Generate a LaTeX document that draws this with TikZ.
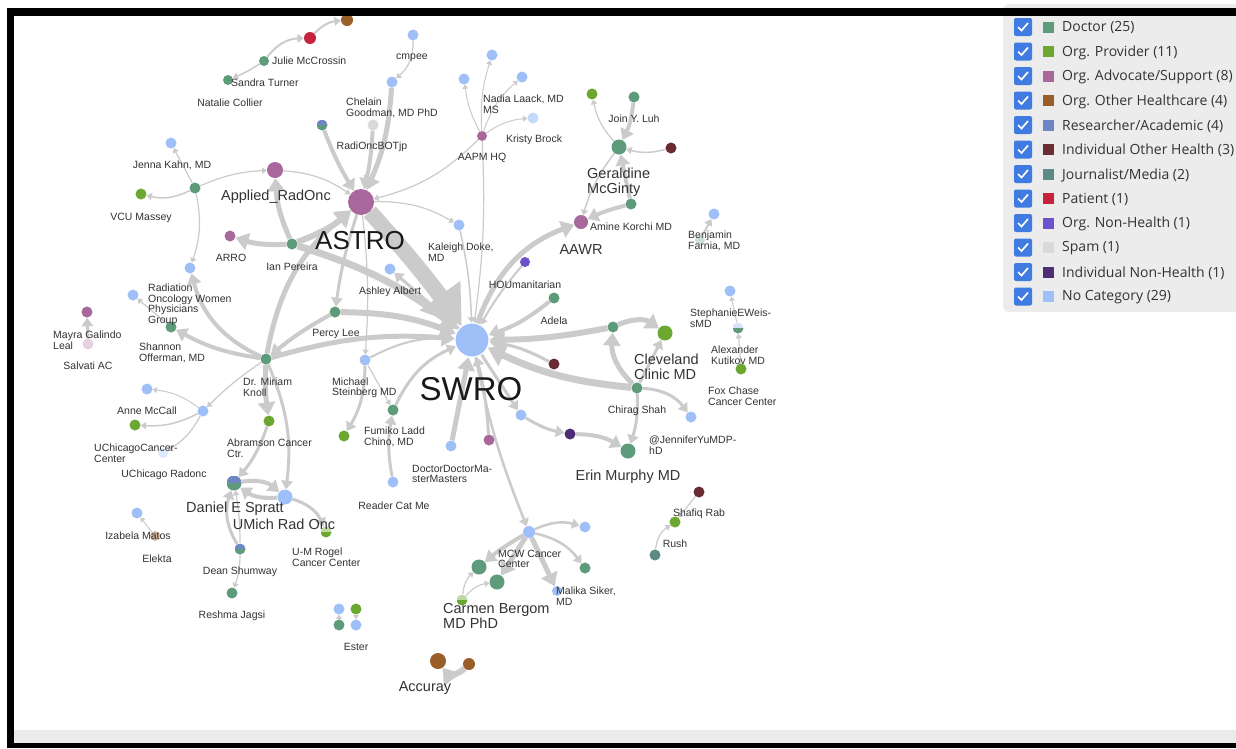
\documentclass[tikz,border=0pt]{standalone}
\usepackage{fontspec}
\setmainfont{Liberation Sans}
\newfontfamily\legfont{Open Sans}
\usetikzlibrary{positioning,arrows.meta,calc,backgrounds}
\definecolor{cDoc}{HTML}{5E9B7B}
\definecolor{cProv}{HTML}{6CA82F}
\definecolor{cAdv}{HTML}{A8689C}
\definecolor{cOther}{HTML}{9A5F28}
\definecolor{cRes}{HTML}{6E86C4}
\definecolor{cIndOth}{HTML}{6A2C33}
\definecolor{cJour}{HTML}{5E8A86}
\definecolor{cPatient}{HTML}{C6233D}
\definecolor{cOrgNon}{HTML}{6C52CC}
\definecolor{cSpam}{HTML}{D9D9D9}
\definecolor{cIndNon}{HTML}{4E2D74}
\definecolor{cNone}{HTML}{9FBFF9}
\definecolor{linkgrey}{HTML}{CBCBCB}
\definecolor{txt}{HTML}{333333}
\definecolor{legbg}{HTML}{ECECEC}
\definecolor{chkblue}{HTML}{3F7BE0}

\begin{document}
\begin{tikzpicture}[x=1pt,y=-1pt,
  dot/.style={circle, inner sep=0pt, minimum size=#1},
  half/.style 2 args={path picture={
    \fill[#1] (path picture bounding box.north west) rectangle (path picture bounding box.east);
    \fill[#2] (path picture bounding box.west) rectangle (path picture bounding box.south east);}},
  link/.style={draw=linkgrey, line width=#1, -{Triangle[length=2pt 2.2, width=3pt 2.8]}},
  lbl/.style={font=\fontsize{10.5}{10.5}\selectfont, text=txt, inner sep=0pt},
  lblw/.style={lbl, align=left, anchor=west},
  midlbl/.style={font=\fontsize{14.5}{15}\selectfont, text=txt, inner sep=0pt},
  midlblw/.style={midlbl, align=left, anchor=west},
  hublbl/.style={font=\fontsize{#1}{#1}\selectfont, text=black!90, inner sep=0pt}]
\useasboundingbox (0,0) rectangle (1236,748);

% nodes, top left
\node[dot=12, fill=cOther] (ohtop) at (347,20) {};
\node[dot=12, fill=cPatient] (patient) at (310,38) {};
\node[dot=10, fill=cDoc] (julie) at (264,61) {};
\node[dot=10, fill=cDoc] (sandra) at (228,80) {};
\node[dot=11, fill=cNone] (cmpee) at (413,35) {};
\node[dot=11, fill=cNone] (cmpeeb) at (392,82) {};
\node[dot=11, fill=cSpam] (chelain) at (373,125) {};
\node[dot=11, half={cRes}{cDoc}] (radbot) at (322,125) {};
\node[dot=26, fill=cAdv] (astro) at (361,202) {};
\node[dot=16, fill=cAdv] (applied) at (275,170) {};
\node[dot=11, fill=cDoc] (jenna) at (195,188) {};
\node[dot=11, fill=cNone] (jennab) at (171,143) {};
\node[dot=11, fill=cProv] (vcu) at (141,194) {};
\node[dot=11, fill=cAdv] (arro) at (230,236) {};
\node[dot=11, fill=cDoc] (ian) at (292,244) {};
\node[dot=11, fill=cNone] (rowpgb) at (190,268) {};

% AAPM and Geraldine
\node[dot=10, fill=cAdv] (aapm) at (482,136) {};
\node[dot=11, fill=cNone] (aapm1) at (464,79) {};
\node[dot=11, fill=cNone] (aapm2) at (492,55) {};
\node[dot=11, fill=cNone] (aapm3) at (522,77) {};
\node[dot=11, fill=cNone!60] (aapm4) at (533,118) {};
\node[dot=11, fill=cNone] (kaleigh) at (459,225) {};
\node[dot=15, fill=cDoc] (geraldine) at (619,147) {};
\node[dot=11, fill=cProv] (gerprov) at (592,94) {};
\node[dot=11, fill=cDoc] (luh) at (634,97) {};
\node[dot=11, fill=cIndOth] (gerred) at (671,148) {};
\node[dot=11, fill=cDoc] (korchi) at (631,204) {};
\node[dot=14, fill=cAdv] (aawr) at (581,222) {};
\node[dot=11, fill=cNone] (farnia) at (714,214) {};
\node[dot=10, fill=cDoc!30] (farniab) at (700,240) {};

% around SWRO
\node[dot=10, fill=cOrgNon] (hou) at (525,262) {};
\node[dot=11, fill=cDoc] (adela) at (554,298) {};
\node[dot=11, fill=cNone] (ashley) at (390,269) {};
\node[dot=11, fill=cDoc] (percy) at (335,312) {};
\node[dot=34, fill=cNone, draw=white, line width=1pt] (swro) at (472,340) {};
\node[dot=11, fill=cNone] (michael) at (365,360) {};
\node[dot=11, fill=cDoc] (fumiko) at (393,410) {};
\node[dot=11, fill=cProv] (michprov) at (344,436) {};
\node[dot=11, fill=cNone] (reader) at (393,482) {};
\node[dot=11, fill=cNone] (ddmm) at (451,446) {};
\node[dot=11, fill=cAdv] (swmauve) at (489,440) {};
\node[dot=11, fill=cNone] (swblue) at (521,415) {};
\node[dot=11, fill=cIndNon] (swpurple) at (570,434) {};
\node[dot=11, fill=cIndOth] (swred) at (554,364) {};

% Cleveland and right side
\node[dot=11, fill=cDoc] (ccdoc) at (613,327) {};
\node[dot=15, fill=cProv] (cleveland) at (665,333) {};
\node[dot=11, fill=cDoc] (chirag) at (637,388) {};
\node[dot=11, fill=cNone] (chiragb) at (691,417) {};
\node[dot=15, fill=cDoc] (erin) at (628,451) {};
\node[dot=11, fill=cNone] (weiss) at (730,291) {};
\node[dot=11, half={cNone!45!white}{cDoc}] (weisshalf) at (738,328) {};
\node[dot=11, fill=cProv] (foxchase) at (741,369) {};
\node[dot=11, fill=cIndOth] (rab) at (699,492) {};
\node[dot=11, fill=cProv] (rabprov) at (675,522) {};
\node[dot=11, fill=cJour] (rush) at (655,555) {};

% MCW, Ester, Accuray
\node[dot=12, fill=cNone] (mcw) at (529,532) {};
\node[dot=11, fill=cNone] (mcwb) at (585,527) {};
\node[dot=11, fill=cDoc] (mcwg) at (585,568) {};
\node[dot=10, fill=cNone] (malika) at (557,591) {};
\node[dot=15, fill=cDoc] (mcwg1) at (479,567) {};
\node[dot=15, fill=cDoc] (mcwg2) at (497,582) {};
\node[dot=11, half={cProv!45!white}{cProv}] (carmen) at (462,600) {};
\node[dot=11, fill=cNone] (ester1) at (339,609) {};
\node[dot=11, fill=cProv] (ester2) at (356,609) {};
\node[dot=11, fill=cDoc] (ester3) at (339,625) {};
\node[dot=11, fill=cNone] (ester4) at (356,625) {};
\node[dot=16, fill=cOther] (accuray) at (438,661) {};
\node[dot=12, fill=cOther] (accurayb) at (469,664) {};

% left side
\node[dot=11, fill=cDoc] (miriam) at (266,359) {};
\node[dot=11, fill=cDoc] (rowpg) at (171,327) {};
\node[dot=11, fill=cNone] (rowpgblue) at (133,295) {};
\node[dot=11, fill=cNone] (anne) at (203,411) {};
\node[dot=11, fill=cNone] (anneb) at (147,389) {};
\node[dot=11, fill=cProv] (anneg) at (135,425) {};
\node[dot=10, fill=cNone!35] (uchicago) at (163,453) {};
\node[dot=11, fill=cProv] (abramson) at (269,421) {};
\node[dot=15, half={cRes}{cDoc}] (daniel) at (234,483) {};
\node[dot=15, fill=cNone] (umich) at (285,497) {};
\node[dot=11, half={cProv!45!white}{cProv}] (rogel) at (326,532) {};
\node[dot=11, half={cRes}{cDoc}] (dean) at (240,549) {};
\node[dot=11, fill=cDoc] (reshma) at (232,593) {};
\node[dot=11, fill=cNone] (izabela) at (137,513) {};
\node[dot=10, fill=cOther!45] (elekta) at (155,536) {};
\node[dot=11, fill=cAdv] (mayra) at (87,312) {};
\node[dot=11, fill=cAdv!30] (mayrab) at (88,344) {};

% labels
\node[lblw] (l-julie) at (272,61) {Julie McCrossin};
\node[lblw] (l-sandra) at (231,83) {Sandra Turner};
\node[lbl] (l-natalie) at (230,103) {Natalie Collier};
\node[lbl] (l-cmpee) at (412,58) {cmpee};
\node[lblw] (l-chelain) at (346,108) {Chelain\\Goodman, MD PhD};
\node[lbl] (l-radbot) at (372,147) {RadiOncBOTjp};
\node[lblw] (l-nadia) at (483,104) {Nadia Laack, MD\\MS};
\node[lbl] (l-kristy) at (534,140) {Kristy Brock};
\node[lbl] (l-aapm) at (482,158) {AAPM HQ};
\node[lbl] (l-luh) at (634,119) {Join Y. Luh};
\node[midlblw] (l-geraldine) at (587,182) {Geraldine\\McGinty};
\node[lbl] (l-korchi) at (631,227) {Amine Korchi MD};
\node[lblw] (l-farnia) at (688,241) {Benjamin\\Farnia, MD};
\node[lbl] (l-jenna) at (172,165) {Jenna Kahn, MD};
\node[lbl] (l-vcu) at (141,218) {VCU Massey};
\node[midlbl] (l-applied) at (276,197) {Applied\_RadOnc};
\node[hublbl=26] (l-astro) at (360,241) {ASTRO};
\node[lbl] (l-arro) at (231,258) {ARRO};
\node[lbl] (l-ian) at (292,267) {Ian Pereira};
\node[lblw] (l-kaleigh) at (428,252) {Kaleigh Doke,\\MD};
\node[midlbl] (l-aawr) at (581,250) {AAWR};
\node[lbl] (l-hou) at (525,285) {HOUmanitarian};
\node[lbl] (l-ashley) at (390,292) {Ashley Albert};
\node[lbl] (l-adela) at (554,321) {Adela};
\node[lbl] (l-percy) at (336,334) {Percy Lee};
\node[lblw] (l-michael) at (332,388) {Michael\\Steinberg MD};
\node[lblw] (l-fumiko) at (364,437) {Fumiko Ladd\\Chino, MD};
\node[lblw] (l-ddmm) at (412,474) {DoctorDoctorMa-\\sterMasters};
\node[hublbl=33] (l-swro) at (471,389) {SWRO};
\node[midlblw] (l-cleveland) at (634,367) {Cleveland\\Clinic MD};
\node[lblw] (l-weiss) at (690,318) {StephanieEWeis-\\sMD};
\node[lblw] (l-kutikov) at (711,355) {Alexander\\Kutikov MD};
\node[lblw] (l-foxchase) at (708,396) {Fox Chase\\Cancer Center};
\node[lbl] (l-chirag) at (637,411) {Chirag Shah};
\node[lblw] (l-jennifer) at (649,445) {@JenniferYuMDP-\\hD};
\node[midlbl] (l-erin) at (628,477) {Erin Murphy MD};
\node[lblw] (l-rowpg) at (148,305) {Radiation\\Oncology Women\\Physicians\\Group};
\node[lblw] (l-mayra) at (53,340) {Mayra Galindo\\Leal};
\node[lbl] (l-salvati) at (88,366) {Salvati AC};
\node[lblw] (l-shannon) at (139,353) {Shannon\\Offerman, MD};
\node[lblw] (l-miriam) at (243,387) {Dr. Miriam\\Knoll};
\node[lbl] (l-anne) at (147,411) {Anne McCall};
\node[lblw] (l-uchicagocc) at (94,453) {UChicagoCancer-\\Center};
\node[lbl] (l-uchicago) at (164,475) {UChicago Radonc};
\node[lblw] (l-abramson) at (227,448) {Abramson Cancer\\Ctr.};
\node[midlbl] (l-daniel) at (235,509) {Daniel E Spratt};
\node[midlbl] (l-umich) at (284,524) {UMich Rad Onc};
\node[lbl] (l-izabela) at (138,536) {Izabela Matos};
\node[lbl] (l-elekta) at (157,559) {Elekta};
\node[lbl] (l-dean) at (240,572) {Dean Shumway};
\node[lbl] (l-reshma) at (232,616) {Reshma Jagsi};
\node[lblw] (l-rogel) at (292,557) {U-M Rogel\\Cancer Center};
\node[lbl] (l-reader) at (394,506) {Reader Cat Me};
\node[lblw] (l-mcw) at (498,559) {MCW Cancer\\Center};
\node[lblw] (l-malika) at (556,596) {Malika Siker,\\MD};
\node[midlblw] (l-carmen) at (443,616) {Carmen Bergom\\MD PhD};
\node[lbl] (l-ester) at (356,647) {Ester};
\node[midlbl] (l-accuray) at (425,688) {Accuray};
\node[lbl] (l-rab) at (699,514) {Shafiq Rab};
\node[lbl] (l-rush) at (675,544) {Rush};

% legend
\fill[legbg, rounded corners=6pt] (1003,4) rectangle (1250,312);
\foreach \i/\col/\txt in {0/cDoc/{Doctor (25)}, 1/cProv/{Org. Provider (11)},
    2/cAdv/{Org. Advocate/Support (8)}, 3/cOther/{Org. Other Healthcare (4)},
    4/cRes/{Researcher/Academic (4)}, 5/cIndOth/{Individual Other Health (3)},
    6/cJour/{Journalist/Media (2)}, 7/cPatient/{Patient (1)},
    8/cOrgNon/{Org. Non-Health (1)}, 9/cSpam/{Spam (1)},
    10/cIndNon/{Individual Non-Health (1)}, 11/cNone/{No Category (29)}} {
  \node[fill=chkblue, rounded corners=2pt, minimum size=18pt, inner sep=0pt] (chk\i) at (1023,27+24.5*\i) {};
  \draw[white, line width=1.7pt] ([shift={(-5,0)}]chk\i.center) -- ++(3.5,3.5) -- ++(6.5,-7.5);
  \node[fill=\col, minimum size=11pt, inner sep=0pt] (sw\i) at (1048,27+24.5*\i) {};
  \node[anchor=west, inner sep=0pt, text=txt, font=\legfont\fontsize{14}{14}\selectfont] (leg\i) at (1062,28+24.5*\i) {\txt};
}
\fill[black] (7,8) rectangle (1236,16);

\begin{scope}[on background layer]
% window frame
\fill[black] (7,8) rectangle (1236,748);
\fill[white] (14,16) rectangle (1236,743);
\fill[black!8] (14,730) rectangle (1236,743);

% links
\draw[link=2] (julie) to[bend left=25] (patient);
\draw[link=2] (patient) to[bend left=20] (ohtop);
\draw[link=1.5] (julie) to[bend left=5] (sandra);
\draw[link=1.2] (cmpee) to[bend left=25] (cmpeeb);
\draw[link=5] (cmpeeb) to[bend left=10] (astro);
\draw[link=4] (chelain) to[bend left=5] (astro);
\draw[link=4] (radbot) to[bend right=5] (astro);
\draw[link=1.2] (jenna) -- (jennab);
\draw[link=1.5] (jenna) to[bend left=20] (vcu);
\draw[link=1.2] (jenna) to[bend left=10] (applied);
\draw[link=1.2] (applied) to[bend left=15] (astro);
\draw[link=1.2] (jenna) to[bend left=15] (rowpgb);
\draw[link=5] (ian) to[bend left=10] (arro);
\draw[link=5] (ian) to[bend left=10] (applied);
\draw[link=6] (ian) to[bend right=10] (astro);
\draw[link=16] (astro) to[bend left=3] (swro);
\draw[link=3] (swro) -- (ashley);
\draw[link=7] (ian) to[bend left=10] (swro);
\draw[link=3] (astro) to[bend right=5] (percy);
\draw[link=1.2] (astro) to[bend left=5] (michael);
\draw[link=1.2] (astro) to[bend left=15] (kaleigh);
\draw[link=1.5] (kaleigh) to[bend left=5] (swro);
\draw[link=1.2] (aapm) to[bend left=15] (astro);
\draw[link=1.2] (aapm) to[bend left=5] (swro);
\draw[link=1] (aapm) to[bend left=10] (aapm1);
\draw[link=1] (aapm) to[bend left=10] (aapm2);
\draw[link=1] (aapm) to[bend left=15] (aapm3);
\draw[link=1] (aapm) to[bend left=15] (aapm4);
\draw[link=5] (miriam) to[bend left=20] (astro);
\draw[link=4] (percy) to[bend right=5] (miriam);
\draw[link=5] (miriam) to[bend left=10] (swro);
\draw[link=6] (percy) to[bend left=10] (swro);
\draw[link=4] (miriam) to[bend left=25] (rowpgb);
\draw[link=4] (miriam) to[bend left=10] (rowpg);
\draw[link=1.2] (rowpg) -- (rowpgblue);
\draw[link=1.2] (miriam) to[bend right=5] (anne);
\draw[link=1] (anne) to[bend right=15] (anneb);
\draw[link=1.5] (anne) to[bend left=15] (anneg);
\draw[link=1.2] (anne) to[bend left=15] (uchicago);
\draw[link=5] (miriam) to[bend right=5] (abramson);
\draw[link=3] (miriam) to[bend left=15] (umich);
\draw[link=3] (abramson) to[bend left=10] (daniel);
\draw[link=4] (daniel) to[bend left=25] (umich);
\draw[link=4] (umich) to[bend left=20] (daniel);
\draw[link=3] (umich) to[bend left=25] (rogel);
\draw[link=3] (dean) to[bend left=25] (daniel);
\draw[link=1.2] (dean) to[bend right=5] (daniel);
\draw[link=1.2] (dean) to[bend left=10] (reshma);
\draw[link=3] (mayrab) -- (mayra);
\draw[link=1] (elekta) -- (izabela);
\draw[link=2] (michael) to[bend left=15] (swro);
\draw[link=3] (michael) to[bend left=15] (michprov);
\draw[link=1.2] (michael) -- (fumiko);
\draw[link=3] (fumiko) to[bend left=20] (swro);
\draw[link=3] (reader) to[bend left=10] (fumiko);
\draw[link=5] (ddmm) -- (swro);
\draw[link=3] (swmauve) to[bend right=5] (swro);
\draw[link=3] (swro) -- (swblue);
\draw[link=3] (swblue) to[bend right=10] (swpurple);
\draw[link=4] (swpurple) to[bend left=15] (erin);
\draw[link=3] (swred) to[bend right=10] (swro);
\draw[link=6] (ccdoc) to[bend left=5] (swro);
\draw[link=5] (ccdoc) to[bend left=30] (cleveland);
\draw[link=3] (chirag) -- (cleveland);
\draw[link=5] (chirag) to[bend left=25] (ccdoc);
\draw[link=7] (chirag) to[bend left=10] (swro);
\draw[link=3] (chirag) to[bend left=25] (chiragb);
\draw[link=3] (chirag) to[bend left=10] (erin);
\draw[link=2] (hou) to[bend right=5] (swro);
\draw[link=4] (adela) to[bend left=10] (swro);
\draw[link=5] (swro) to[bend left=25] (aawr);
\draw[link=4] (korchi) to[bend right=5] (aawr);
\draw[link=1.5] (geraldine) to[bend right=10] (aawr);
\draw[link=4] (korchi) -- (geraldine);
\draw[link=4] (luh) to[bend left=10] (geraldine);
\draw[link=1.5] (gerred) to[bend left=15] (geraldine);
\draw[link=1.2] (geraldine) to[bend left=15] (gerprov);
\draw[link=2] (farniab) -- (farnia);
\draw[link=1] (weisshalf) -- (weiss);
\draw[link=1.2] (foxchase) -- (weisshalf);
\draw[link=1.2] (rab) -- (rabprov);
\draw[link=1.2] (rush) to[bend left=25] (rabprov);
\draw[link=2.5] (swro) to[bend right=5] (mcw);
\draw[link=2.5] (mcw) to[bend left=20] (mcwb);
\draw[link=2.5] (mcw) to[bend left=20] (mcwg);
\draw[link=5] (mcw) -- (malika);
\draw[link=4] (mcw) to[bend right=5] (mcwg1);
\draw[link=5] (mcw) -- (mcwg2);
\draw[link=1.2] (carmen) to[bend left=20] (mcwg1);
\draw[link=1.2] (carmen) to[bend left=20] (mcwg2);
\draw[link=1] (ester3) -- (ester1);
\draw[link=1] (ester2) -- (ester4);
\draw[link=6] (accurayb) to[bend left=50] (accuray);
\end{scope}
\end{tikzpicture}
\end{document}
